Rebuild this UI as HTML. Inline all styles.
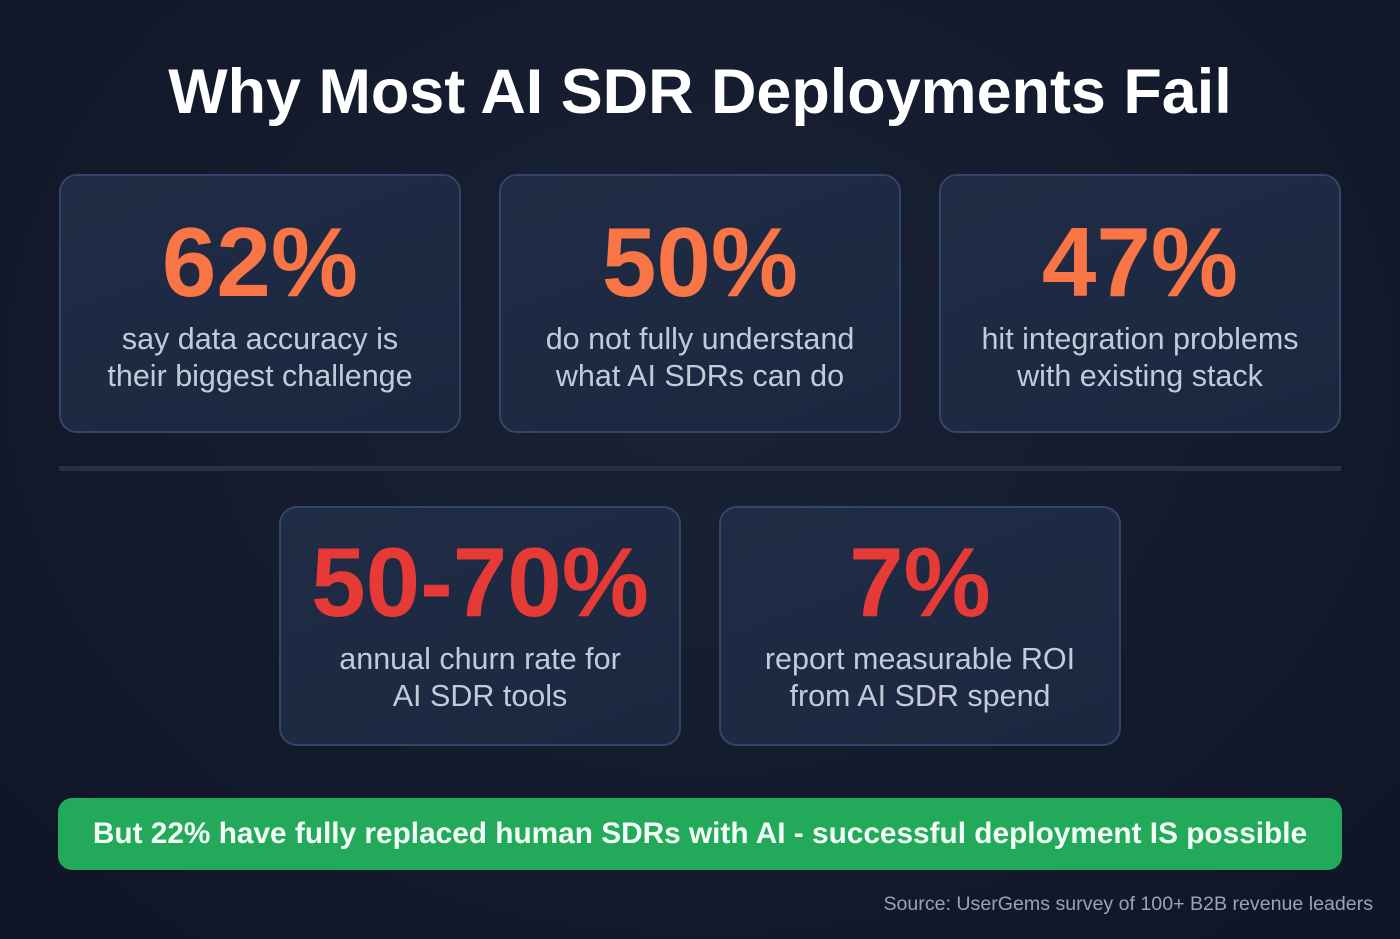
<!DOCTYPE html>
<html><head><meta charset="utf-8"><style>
*{margin:0;padding:0;box-sizing:border-box}
body{width:1400px;height:939px;overflow:hidden;background:radial-gradient(ellipse at 50% 40%,#1a2236 0%,#131a2c 60%,#0f1526 100%);font-family:"Liberation Sans",sans-serif;position:relative}
.abs{position:absolute}
h1{position:absolute;left:0;width:1400px;top:52px;text-align:center;color:#fff;font-size:62.9px;font-weight:bold;line-height:80px}
.card{position:absolute;width:402px;background:linear-gradient(160deg,#202c45,#1c2740);border:2px solid #33456a;border-radius:18px;text-align:center}
.num{position:absolute;left:0;width:100%;font-weight:bold;font-size:98px;line-height:100px}
.lab{position:absolute;left:0;width:100%;color:#c3cad8;font-size:30.5px;line-height:37px}
</style></head><body>
<h1>Why Most AI SDR Deployments Fail</h1>

<div class="card" style="left:59px;top:174px;height:259px">
<div class="num" style="top:36px;color:#f97545">62%</div>
<div class="lab" style="top:145px">say data accuracy is<br>their biggest challenge</div></div>

<div class="card" style="left:499px;top:174px;height:259px">
<div class="num" style="top:36px;color:#f97545">50%</div>
<div class="lab" style="top:145px">do not fully understand<br>what AI SDRs can do</div></div>

<div class="card" style="left:939px;top:174px;height:259px">
<div class="num" style="top:36px;color:#f97545">47%</div>
<div class="lab" style="top:145px">hit integration problems<br>with existing stack</div></div>

<div class="abs" style="left:59px;top:466px;width:1282px;height:5px;background:#263044"></div>

<div class="card" style="left:279px;top:506px;height:240px">
<div class="num" style="top:24px;color:#e53a35">50-70%</div>
<div class="lab" style="top:133px">annual churn rate for<br>AI SDR tools</div></div>

<div class="card" style="left:719px;top:506px;height:240px">
<div class="num" style="top:24px;color:#e53a35">7%</div>
<div class="lab" style="top:133px">report measurable ROI<br>from AI SDR spend</div></div>

<div class="abs" style="left:58px;top:798px;width:1284px;height:72px;background:#22a95a;border-radius:14px;color:#f4fff7;font-weight:bold;font-size:29.8px;line-height:72px;text-align:center">But 22% have fully replaced human SDRs with AI - successful deployment IS possible</div>

<div class="abs" style="right:27px;top:892px;color:#9aa3b5;font-size:19.6px;line-height:24px">Source: UserGems survey of 100+ B2B revenue leaders</div>
</body></html>
